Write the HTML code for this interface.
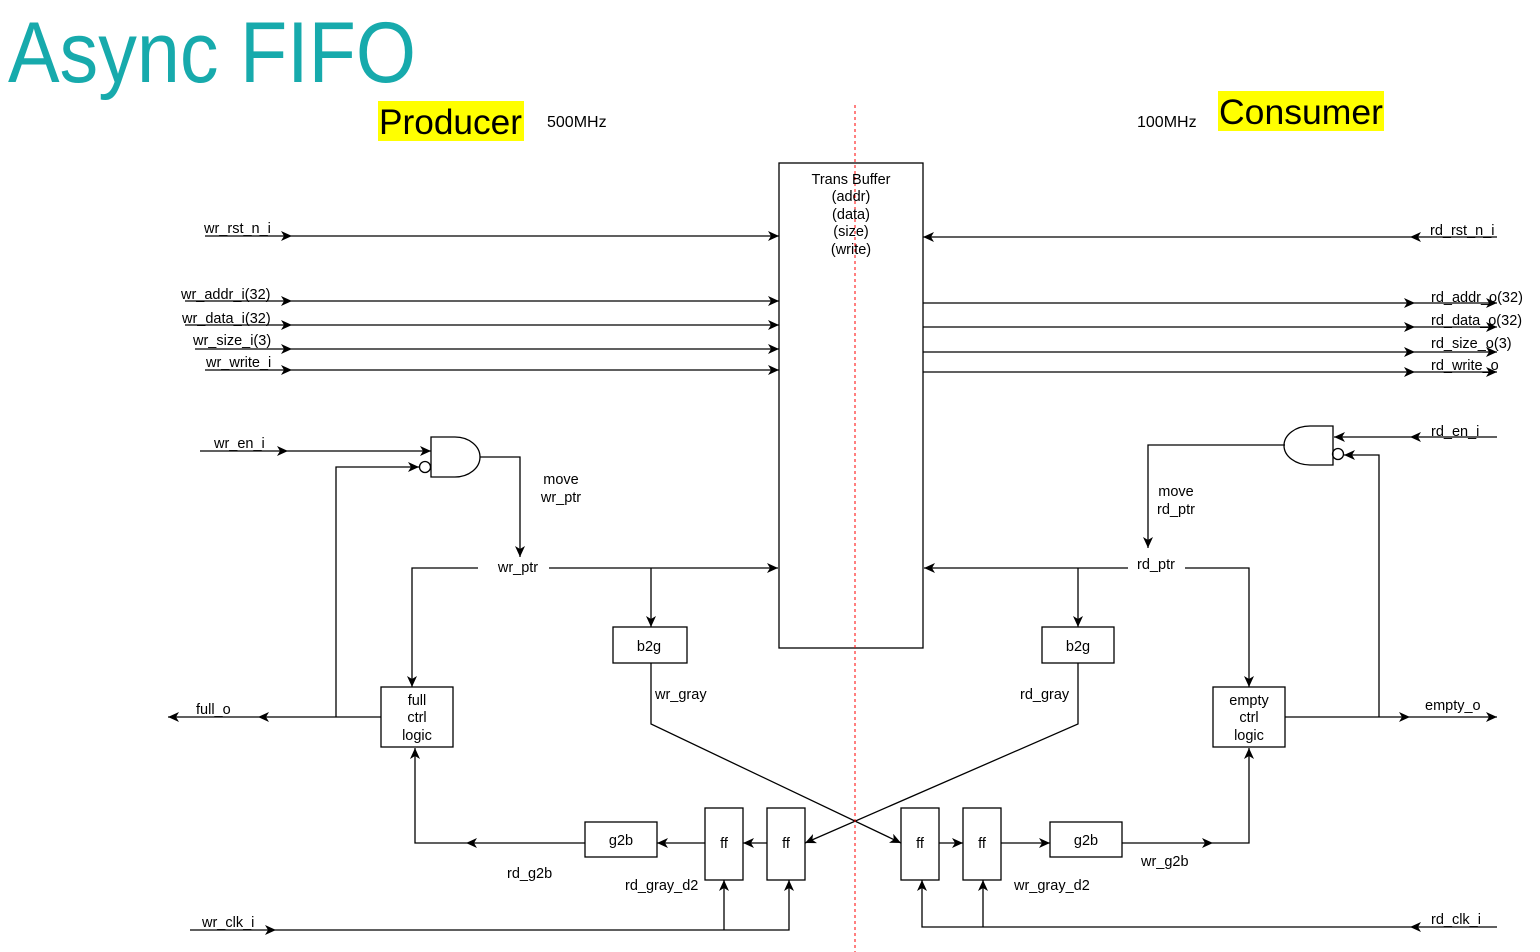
<!DOCTYPE html>
<html><head><meta charset="utf-8"><style>
html,body{margin:0;padding:0;background:#fff;}
svg{display:block;}
text{font-family:"Liberation Sans",Arial,sans-serif;font-size:14.5px;fill:#000;}
</style></head><body>
<svg width="1540" height="952" viewBox="0 0 1540 952" xmlns="http://www.w3.org/2000/svg">
<defs>
<marker id="a" markerUnits="userSpaceOnUse" markerWidth="12" markerHeight="10" refX="11" refY="5" orient="auto">
<path d="M0,0 L11,5 L0,10 L3,5 z" fill="#000"/>
</marker>
</defs>
<text x="8" y="82" textLength="408" lengthAdjust="spacingAndGlyphs" style="font-size:86px;fill:#17aaac">Async FIFO</text>
<rect x="378" y="101" width="146" height="40" fill="#ffff00"/>
<text x="379" y="134" textLength="143" lengthAdjust="spacingAndGlyphs" style="font-size:35px">Producer</text>
<rect x="1218" y="91" width="166" height="40" fill="#ffff00"/>
<text x="1219" y="124" textLength="164" lengthAdjust="spacingAndGlyphs" style="font-size:35px">Consumer</text>
<text x="547" y="127" style="font-size:16px">500MHz</text>
<text x="1137" y="127" style="font-size:16px">100MHz</text>

<g fill="none" stroke="#000" stroke-width="1.3">
<rect x="779" y="163" width="144" height="485"/>
<path d="M205 236H292" marker-end="url(#a)"/><path d="M292 236H779" marker-end="url(#a)"/>
<path d="M185 301H292" marker-end="url(#a)"/><path d="M292 301H779" marker-end="url(#a)"/>
<path d="M185 325H292" marker-end="url(#a)"/><path d="M292 325H779" marker-end="url(#a)"/>
<path d="M195 349H292" marker-end="url(#a)"/><path d="M292 349H779" marker-end="url(#a)"/>
<path d="M205 370H292" marker-end="url(#a)"/><path d="M292 370H779" marker-end="url(#a)"/>
<path d="M1497 237H1410" marker-end="url(#a)"/><path d="M1410 237H923" marker-end="url(#a)"/>
<path d="M923 303H1415" marker-end="url(#a)"/><path d="M1415 303H1497" marker-end="url(#a)"/>
<path d="M923 327H1415" marker-end="url(#a)"/><path d="M1415 327H1497" marker-end="url(#a)"/>
<path d="M923 352H1415" marker-end="url(#a)"/><path d="M1415 352H1497" marker-end="url(#a)"/>
<path d="M923 372H1415" marker-end="url(#a)"/><path d="M1415 372H1497" marker-end="url(#a)"/>

<path d="M431 437H455A25 20 0 0 1 455 477H431Z"/>
<circle cx="425" cy="467" r="5.5"/>
<path d="M200 451H288" marker-end="url(#a)"/><path d="M288 451H431" marker-end="url(#a)"/>
<path d="M336 717V467H419" marker-end="url(#a)"/>
<path d="M480 457H520V557" marker-end="url(#a)"/>
<path d="M478 568H412V687" marker-end="url(#a)"/>
<path d="M549 568H778" marker-end="url(#a)"/>
<path d="M651 568V627" marker-end="url(#a)"/>
<rect x="613" y="627" width="74" height="36"/>
<rect x="381" y="687" width="72" height="60"/>
<path d="M381 717H258" marker-end="url(#a)"/><path d="M258 717H168" marker-end="url(#a)"/>
<path d="M651 663V724L901 843" marker-end="url(#a)"/>
<path d="M1078 663V724L805 843" marker-end="url(#a)"/>
<rect x="705" y="808" width="38" height="72"/>
<rect x="767" y="808" width="38" height="72"/>
<rect x="901" y="808" width="38" height="72"/>
<rect x="963" y="808" width="38" height="72"/>
<rect x="585" y="822" width="72" height="35"/>
<rect x="1050" y="822" width="72" height="35"/>
<path d="M767 843H743" marker-end="url(#a)"/>
<path d="M705 843H657" marker-end="url(#a)"/>
<path d="M585 843H466" marker-end="url(#a)"/><path d="M466 843H415V748" marker-end="url(#a)"/>
<path d="M939 843H963" marker-end="url(#a)"/>
<path d="M1001 843H1050" marker-end="url(#a)"/>
<path d="M1122 843H1213" marker-end="url(#a)"/><path d="M1213 843H1249V748" marker-end="url(#a)"/>
<path d="M190 930H276" marker-end="url(#a)"/><path d="M276 930H789V880" marker-end="url(#a)"/>
<path d="M724 930V880" marker-end="url(#a)"/>
<path d="M1497 927H1410" marker-end="url(#a)"/><path d="M1410 927H922V880" marker-end="url(#a)"/>
<path d="M983 927V880" marker-end="url(#a)"/>
<rect x="1213" y="687" width="72" height="60"/>
<rect x="1042" y="627" width="72" height="36"/>
<path d="M1333 426H1310A26 19.5 0 0 0 1310 465H1333Z"/>
<circle cx="1338" cy="454" r="5.5"/>
<path d="M1497 437H1410" marker-end="url(#a)"/><path d="M1410 437H1334" marker-end="url(#a)"/>
<path d="M1285 717H1410" marker-end="url(#a)"/><path d="M1410 717H1497" marker-end="url(#a)"/>
<path d="M1379 717V455H1344" marker-end="url(#a)"/>
<path d="M1285 445H1148V548" marker-end="url(#a)"/>
<path d="M1128 568H924" marker-end="url(#a)"/>
<path d="M1185 568H1249V687" marker-end="url(#a)"/>
<path d="M1078 568V627" marker-end="url(#a)"/>
</g>
<line x1="855" y1="105" x2="855" y2="952" stroke="#ff0000" stroke-width="1" stroke-dasharray="3,3"/>

<g text-anchor="middle">
<text x="851" y="184">Trans Buffer</text>
<text x="851" y="201">(addr)</text>
<text x="851" y="219">(data)</text>
<text x="851" y="236">(size)</text>
<text x="851" y="254">(write)</text>
<text x="649" y="651">b2g</text>
<text x="1078" y="651">b2g</text>
<text x="417" y="705">full</text><text x="417" y="722">ctrl</text><text x="417" y="740">logic</text>
<text x="1249" y="705">empty</text><text x="1249" y="722">ctrl</text><text x="1249" y="740">logic</text>
<text x="621" y="845">g2b</text>
<text x="1086" y="845">g2b</text>
<text x="724" y="848">ff</text><text x="786" y="848">ff</text><text x="920" y="848">ff</text><text x="982" y="848">ff</text>
<text x="561" y="484">move</text><text x="561" y="502">wr_ptr</text>
<text x="1176" y="496">move</text><text x="1176" y="514">rd_ptr</text>
<text x="518" y="572">wr_ptr</text>
<text x="1156" y="569">rd_ptr</text>
</g>
<text x="204" y="233">wr_rst_n_i</text>
<text x="181" y="299">wr_addr_i(32)</text>
<text x="182" y="323">wr_data_i(32)</text>
<text x="193" y="345">wr_size_i(3)</text>
<text x="206" y="367">wr_write_i</text>
<text x="214" y="448">wr_en_i</text>
<text x="196" y="714">full_o</text>
<text x="655" y="699">wr_gray</text>
<text x="1020" y="699">rd_gray</text>
<text x="507" y="878">rd_g2b</text>
<text x="625" y="890">rd_gray_d2</text>
<text x="1014" y="890">wr_gray_d2</text>
<text x="1141" y="866">wr_g2b</text>
<text x="202" y="927">wr_clk_i</text>
<text x="1431" y="924">rd_clk_i</text>
<text x="1430" y="235">rd_rst_n_i</text>
<text x="1431" y="302">rd_addr_o(32)</text>
<text x="1431" y="325">rd_data_o(32)</text>
<text x="1431" y="348">rd_size_o(3)</text>
<text x="1431" y="370">rd_write_o</text>
<text x="1431" y="436">rd_en_i</text>
<text x="1425" y="710">empty_o</text>
</svg>
</body></html>
